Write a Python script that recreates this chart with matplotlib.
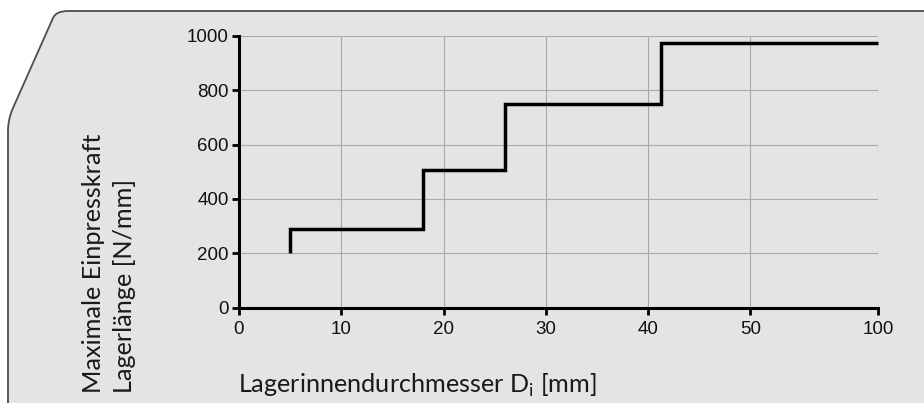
import numpy as np
import matplotlib
matplotlib.use("Agg")
import matplotlib.pyplot as plt
from matplotlib.path import Path
from matplotlib.patches import PathPatch

# ---- data ----
step_x = [5, 5, 18, 18, 26, 26, 41.3, 41.3, 100]
step_y = [200, 290, 290, 505, 505, 750, 750, 975, 975]
x_ticks = [0, 10, 20, 30, 40, 50, 100]
x_tick_labels = ["0", "10", "20", "30", "40", "50", "100"]
y_ticks = [0, 200, 400, 600, 800, 1000]
y_tick_labels = ["0", "200", "400", "600", "800", "1000"]
x_label = r"Lagerinnendurchmesser D$_\mathregular{i}$ [mm]"
y_label = "Maximale Einpresskraft\nLagerlänge [N/mm]"

W, H = 924, 403
fig = plt.figure(figsize=(W / 100, H / 100), dpi=100)
fig.patch.set_facecolor("white")

# ---- background panel with cut corner ----
def P(x, y):
    return (x / W, 1 - y / H)

verts = [P(940, 11), P(68, 11), P(56, 11), P(53, 18), P(13, 108), P(8, 119), P(8, 131),
         P(8, 420), P(940, 420), P(940, 11)]
codes = [Path.MOVETO, Path.LINETO, Path.CURVE3, Path.CURVE3, Path.LINETO, Path.CURVE3, Path.CURVE3,
         Path.LINETO, Path.LINETO, Path.CLOSEPOLY]
panel = PathPatch(Path(verts, codes), facecolor="#e3e4e6", edgecolor="#4d4d4d", lw=1.3,
                  transform=fig.transFigure, zorder=-10)
fig.patches.append(panel)

ax = fig.add_axes([239 / W, 1 - 307.5 / H, (878.3 - 239) / W, (307.5 - 36) / H])
ax.set_facecolor("none")
ax.set_zorder(5)

def fwd(x):
    x = np.asarray(x, dtype=float)
    return np.where(x <= 50, x, 50 + (x - 50) * 0.25)

def inv(x):
    x = np.asarray(x, dtype=float)
    return np.where(x <= 50, x, 50 + (x - 50) * 4.0)

ax.set_xscale("function", functions=(fwd, inv))
ax.set_xlim(0, 100)
ax.set_ylim(0, 1000)

ax.plot(step_x, step_y, color="black", lw=2.5, solid_joinstyle="miter", solid_capstyle="butt",
        zorder=3, clip_on=False)

ax.set_xticks(x_ticks)
ax.set_xticklabels(x_tick_labels)
ax.set_yticks(y_ticks)
ax.set_yticklabels(y_tick_labels)
ax.minorticks_off()

ax.grid(True, color="#a9a9a9", lw=0.8, zorder=0)
ax.set_axisbelow(True)

for s in ["top", "right"]:
    ax.spines[s].set_visible(False)
for s in ["left", "bottom"]:
    ax.spines[s].set_linewidth(2.2)
    ax.spines[s].set_color("black")
    ax.spines[s].set_zorder(4)

tick_font = "Liberation Sans"
ax.tick_params(axis="both", direction="out", length=5, width=2, color="black",
               labelsize=13.5, labelcolor="#111111")
ax.tick_params(axis="x", pad=5)
ax.tick_params(axis="y", pad=2.5)
for lbl in ax.get_xticklabels() + ax.get_yticklabels():
    lbl.set_fontfamily(tick_font)

fig.text(238 / W, 1 - 393 / H, x_label, fontsize=18.2, family="Lato",
         color="#1a1a1a", ha="left", va="baseline")
fig.text(109 / W, 1 - 393 / H, y_label, fontsize=18.2, family="Lato",
         color="#1a1a1a", rotation=90, ha="center", va="bottom", multialignment="left",
         linespacing=1.4)

fig.savefig("out.png", dpi=100)
